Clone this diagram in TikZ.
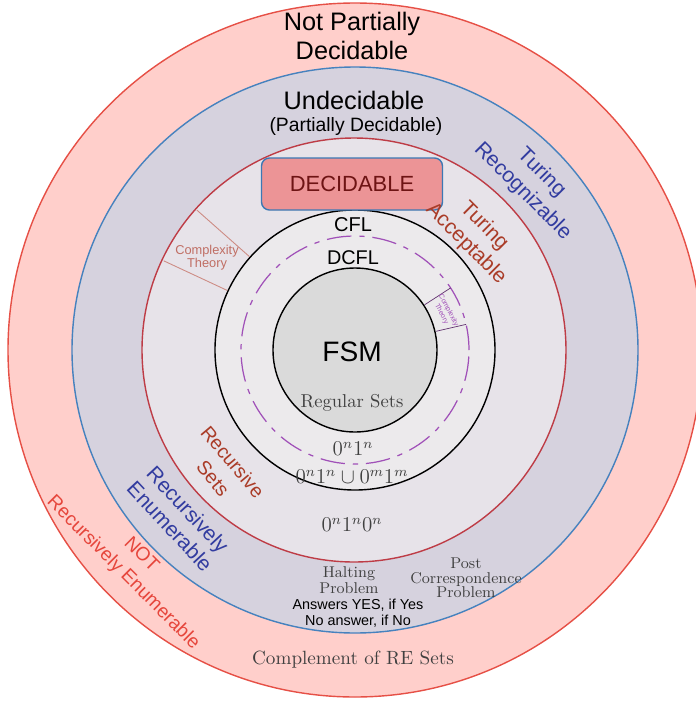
\documentclass[tikz,border=0pt]{standalone}
\usepackage{amsmath,amssymb}
\usepackage{fontspec}
\setsansfont{Liberation Sans}
\definecolor{nrefill}{HTML}{FFCFCB}
\definecolor{nreline}{HTML}{E65046}
\definecolor{refill}{HTML}{D6D2DE}
\definecolor{reline}{HTML}{4682BE}
\definecolor{recfill}{HTML}{E7E3E9}
\definecolor{recline}{HTML}{BE3C46}
\definecolor{cflfill}{HTML}{ECEAEC}
\definecolor{fsmfill}{HTML}{DADADA}
\definecolor{decfill}{HTML}{EC9496}
\definecolor{decline}{HTML}{3C78B4}
\definecolor{dectext}{HTML}{6E1414}
\definecolor{recblue}{HTML}{323CA0}
\definecolor{accred}{HTML}{AA3C28}
\definecolor{nrered}{HTML}{E6463C}
\definecolor{ctred}{HTML}{C06E64}
\definecolor{ctpurple}{HTML}{A050B8}
\definecolor{sergray}{HTML}{404040}

\begin{document}
\begin{tikzpicture}[x=0.02cm, y=0.02cm,
	every node/.style={inner sep=0pt},
	sanstext/.style 2 args={font=\sffamily\fontsize{#1}{#2}\selectfont},
	seriftext/.style 2 args={font=\rmfamily\fontsize{#1}{#2}\selectfont, text=sergray},
	ring/.style={line width=0.8pt},
	decbox/.style={draw=decline, fill=decfill, line width=0.8pt, rounded corners=4.5pt,
		minimum width=3.62cm, minimum height=1.04cm, text=dectext},
	ctline/.style={draw=ctred!80, line width=0.5pt},
	ctpline/.style={draw=ctpurple!60!black, line width=0.4pt}]
	\useasboundingbox (0,0) rectangle (696,-701);
	\filldraw[ring, fill=nrefill, draw=nreline] (355,-350) circle (347);
	\filldraw[ring, fill=refill, draw=reline] (355,-350) circle (283);
	\filldraw[ring, fill=recfill, draw=recline] (354,-350) circle (212);
	\filldraw[ring, fill=cflfill, draw=black] (355,-350) circle (140);
	\draw[line width=0.7pt, ctpurple, dash pattern=on 14pt off 4.5pt on 3pt off 4.5pt] (355,-350) circle (114);
	\filldraw[ring, fill=fsmfill, draw=black] (355,-350) circle (82);
	\begin{scope}[shift={(355,-350)}]
		\draw[ctline] (138.5:211) -- (138.5:141);
		\draw[ctline] (155:211) -- (155:141);
		\draw[ctpline] (33:83) -- (33:114);
		\draw[ctpline] (13:83) -- (13:114);
	\end{scope}
	\node[sanstext={14.4}{16}, align=center] (npd) at (352,-36) {Not Partially\\Decidable};
	\node[sanstext={14.4}{16}] (und) at (354,-100) {Undecidable};
	\node[sanstext={11}{13}] (pdec) at (356,-126) {(Partially Decidable)};
	\node[sanstext={12}{15}, text=recblue, rotate=-45, align=center] (trec) at (532,-182) {Turing\\Recognizable};
	\node[decbox, sanstext={12.5}{15}] (dec) at (352,-184) {DECIDABLE};
	\node[sanstext={12}{14.5}, text=accred, rotate=-45, align=center] (tacc) at (475,-235) {Turing\\Acceptable};
	\node[sanstext={7.3}{7.4}, text=ctred, align=center] (ctl) at (207,-258) {Complexity\\Theory};
	\node[sanstext={4}{4.5}, text=ctpurple, rotate=-62, align=center] (ctr) at (445,-312) {Complexity\\Theory};
	\node[sanstext={11.4}{13}] (cfl) at (353,-225) {CFL};
	\node[sanstext={11.3}{13}] (dcfl) at (353,-258) {DCFL};
	\node[sanstext={16}{18}] (fsm) at (352,-352) {FSM};
	\node[seriftext={10.6}{12}] (reg) at (352,-403) {Regular Sets};
	\node[seriftext={11.5}{13}] (lang1) at (353,-449) {$0^n1^n$};
	\node[seriftext={11.5}{13}] (lang2) at (352,-477) {$0^n1^n\cup 0^m1^m$};
	\node[seriftext={11.5}{13}] (lang3) at (352,-525) {$0^n1^n0^n$};
	\node[sanstext={11.1}{14.5}, text=accred, rotate=-50, align=center] (rset) at (223,-470) {Recursive\\Sets};
	\node[sanstext={12}{14}, text=recblue, rotate=-47, align=center] (renum) at (179,-518) {Recursively\\Enumerable};
	\node[sanstext={10.9}{14.5}, text=nrered, rotate=-45, align=center] (nre) at (132,-564) {NOT\\Recursively Enumerable};
	\node[seriftext={8.9}{9}, align=center] (halt) at (349,-580) {Halting\\Problem};
	\node[sanstext={8.2}{9}, align=center] (ans) at (358,-613) {Answers YES, if Yes\\No answer, if No};
	\node[seriftext={8.9}{8.3}, align=center] (pcp) at (466,-578) {Post\\Correspondence\\Problem};
	\node[seriftext={10.9}{12}] (cre) at (353,-660) {Complement of RE Sets};
\end{tikzpicture}
\end{document}
